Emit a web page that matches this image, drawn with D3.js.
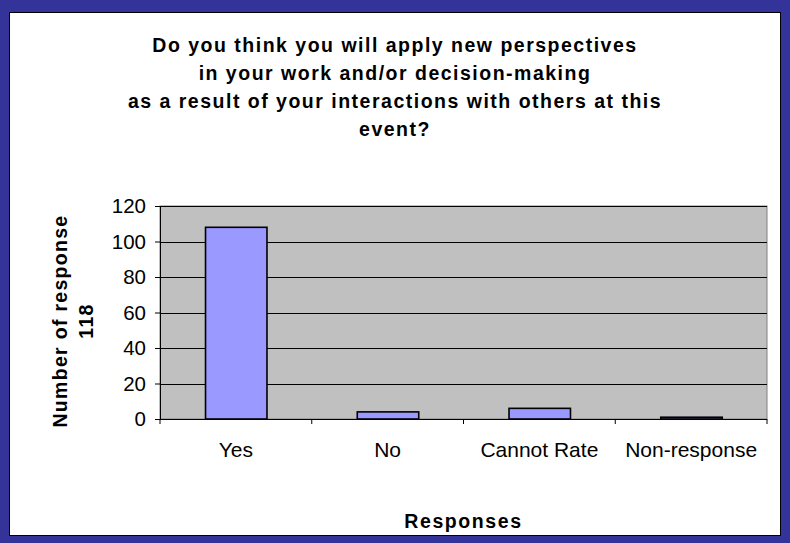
<!DOCTYPE html>
<html><head><meta charset="utf-8">
<script src="https://cdn.jsdelivr.net/npm/d3@7"></script>
<style>body{margin:0;background:#fff}svg{display:block}text{font-family:"Liberation Sans",Arial,sans-serif}</style>
</head><body>
<script>
const categories = ["Yes", "No", "Cannot Rate", "Non-response"];
const values = [108, 4, 6, 1];
const yTicks = [0, 20, 40, 60, 80, 100, 120];
const titleLines = ["Do you think you will apply new perspectives", "in your work and/or decision-making", "as a result of your interactions with others at this", "event?"];
const yTitle = ["Number of response", "118"];
const xTitle = "Responses";

const W = 790, H = 543;
const FONT = "Liberation Sans, Arial, sans-serif";
const svg = d3.select("body").append("svg").attr("width", W).attr("height", H);
svg.append("rect").attr("width", W).attr("height", H).attr("fill", "#333399");
svg.append("rect").attr("x", 9.5).attr("y", 12.5).attr("width", 771).attr("height", 523).attr("fill", "#fff").attr("stroke", "#000").attr("stroke-width", 1);

const m = {l: 160, r: 767, t: 206, b: 419};
const x = d3.scaleBand().domain(categories).range([m.l, m.r]).padding(0);
const step = x.bandwidth();
const y = d3.scaleLinear().domain([0, 120]).range([m.b, m.t]);

svg.append("rect").attr("x", m.l).attr("y", m.t).attr("width", m.r - m.l).attr("height", m.b - m.t).attr("fill", "#C0C0C0").attr("stroke", "#808080");

svg.append("g").selectAll("line").data(yTicks.filter(d => d > 0)).join("line")
  .attr("x1", m.l).attr("x2", m.r).attr("y1", d => Math.round(y(d)) + 0.5).attr("y2", d => Math.round(y(d)) + 0.5).attr("stroke", "#000").attr("stroke-width", 1);

svg.append("g").selectAll("rect").data(values).join("rect")
  .attr("x", (d, i) => x(categories[i]) + step * 0.3).attr("width", step * 0.405)
  .attr("y", d => y(d)).attr("height", d => y(0) - y(d))
  .attr("fill", "#9999FF").attr("stroke", "#000").attr("stroke-width", 1.6);

const ya = svg.append("g").attr("transform", `translate(${m.l},0)`).call(d3.axisLeft(y).tickValues(yTicks).tickSize(5).tickPadding(9));
ya.select(".domain").attr("stroke", "#000");
ya.selectAll("line").attr("stroke", "#000");
ya.selectAll("text").attr("font-size", 20.5).attr("fill", "#000").attr("font-family", FONT);

svg.append("line").attr("x1", m.l).attr("x2", m.r).attr("y1", m.b + 0.5).attr("y2", m.b + 0.5).attr("stroke", "#000");
svg.append("g").selectAll("line").data(d3.range(categories.length + 1)).join("line")
  .attr("x1", i => m.l + i * step).attr("x2", i => m.l + i * step).attr("y1", m.b).attr("y2", m.b + 5).attr("stroke", "#000");
svg.append("g").selectAll("text").data(categories).join("text")
  .attr("x", d => x(d) + step / 2).attr("y", 457).attr("text-anchor", "middle")
  .attr("font-size", 21).attr("font-family", FONT).text(d => d);

svg.append("g").selectAll("text").data(titleLines).join("text")
  .attr("x", 395).attr("y", (d, i) => 52 + i * 28).attr("text-anchor", "middle")
  .attr("font-size", 19.5).attr("font-weight", "bold").attr("letter-spacing", 1.5).text(d => d);

svg.append("g").selectAll("text").data(yTitle).join("text")
  .attr("transform", (d, i) => `translate(${67 + i * 26},321) rotate(-90)`).attr("text-anchor", "middle")
  .attr("font-size", 19.5).attr("font-weight", "bold").attr("letter-spacing", 1.3).text(d => d);

svg.append("text").attr("x", (m.l + m.r) / 2).attr("y", 528).attr("text-anchor", "middle")
  .attr("font-size", 19.5).attr("font-weight", "bold").attr("letter-spacing", 1.6).text(xTitle);
</script>
</body></html>
